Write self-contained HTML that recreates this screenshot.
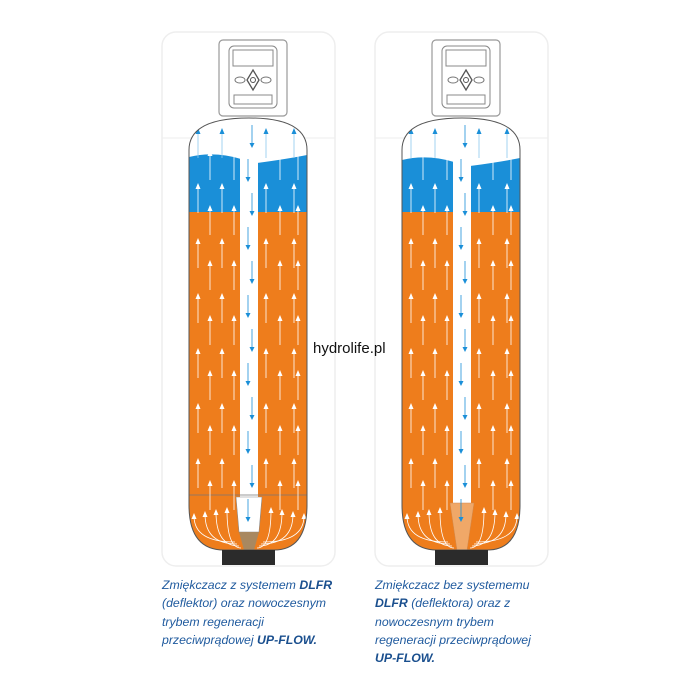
<!DOCTYPE html>
<html><head><meta charset="utf-8"><style>
body{margin:0;background:#fff;width:700px;height:700px;overflow:hidden;position:relative;font-family:"Liberation Sans",sans-serif}
.cap{position:absolute;font-style:italic;color:#1f5a9e;font-size:12.3px;line-height:18.3px}
.cap b{color:#1a4f8e}
#wm{position:absolute;left:313px;top:340px;font-size:15px;color:#111}
</style></head><body>
<svg id="s" width="700" height="700" style="position:absolute;left:0;top:0"></svg>
<div id="wm">hydrolife.pl</div>
<div class="cap" style="left:162px;top:576px">Zmiękczacz z systemem <b>DLFR</b><br>(deflektor) oraz nowoczesnym<br>trybem regeneracji<br>przeciwprądowej <b>UP-FLOW.</b></div>
<div class="cap" style="left:375px;top:576px">Zmiękczacz bez systememu<br><b>DLFR</b> (deflektora) oraz z<br>nowoczesnym trybem<br>regeneracji przeciwprądowej<br><b>UP-FLOW.</b></div>
<script>
let h='';
function tank(ox,defl){
 const L=ox+189,R=ox+307,cx=ox+249;
 h+=`<rect x="${ox+162}" y="32" width="173" height="534" rx="14" fill="none" stroke="#eee" stroke-width="1.5"/>`;
 h+=`<line x1="${ox+162}" y1="138" x2="${ox+335}" y2="138" stroke="#eee"/>`;
 h+=`<rect x="${ox+219}" y="40" width="68" height="76" rx="4" fill="#fff" stroke="#999" stroke-width="1.2"/>`;
 h+=`<rect x="${ox+229}" y="46" width="48" height="62" rx="5" fill="#fff" stroke="#888"/>`;
 h+=`<rect x="${ox+233}" y="50" width="40" height="16" fill="#fff" stroke="#888"/>`;
 h+=`<rect x="${ox+234}" y="95" width="38" height="9" fill="#fff" stroke="#888"/>`;
 h+=`<ellipse cx="${ox+240}" cy="80" rx="5" ry="3" fill="#fff" stroke="#777"/><ellipse cx="${ox+266}" cy="80" rx="5" ry="3" fill="#fff" stroke="#777"/>`;
 h+=`<polygon points="${ox+253},70 ${ox+259},80 ${ox+253},90 ${ox+247},80" fill="#fff" stroke="#555" stroke-width="1.3"/><circle cx="${ox+253}" cy="80" r="2.5" fill="#fff" stroke="#555"/>`;
 const bw=ox===0?157:160;
 const path=`M${L},505 L${L},150 Q${L},118 ${cx},118 Q${R},118 ${R},150 L${R},505 Q${R},550 ${cx+25},550 L${cx-25},550 Q${L},550 ${L},505 Z`;
 h+=`<clipPath id="c${ox}"><path d="${path}"/></clipPath>`;
 h+=`<g clip-path="url(#c${ox})"><rect x="${L}" y="100" width="120" height="460" fill="#fff"/>`;
 h+=`<path d="M${L},${bw} Q${L+25},${bw-6} ${cx-8},${bw+2} L${cx+8},${bw+6} Q${R-20},${bw+2} ${R},${bw-2} L${R},212 L${L},212Z" fill="#1a8fd8"/>`;
 h+=`<rect x="${L}" y="212" width="120" height="350" fill="#ee7d1c"/>`;
 h+=`<rect x="${cx-9}" y="118" width="18" height="${defl?380:385}" fill="#fff"/>`;
 if(defl){
  h+=`<line x1="${L}" y1="495" x2="${R}" y2="495" stroke="#777" stroke-width="0.8"/>`;
  h+=`<polygon points="${cx-13},497 ${cx+13},497 ${cx+10},532 ${cx-10},532" fill="#fff" stroke="#888" stroke-width="0.6"/>`;
  h+=`<polygon points="${cx-10},532 ${cx+10},532 ${cx+5},550 ${cx-5},550" fill="#a88860"/>`;
 } else {
  h+=`<polygon points="${cx-12},503 ${cx+12},503 ${cx+5},550 ${cx-5},550" fill="#f0a868" stroke="#d08a50" stroke-width="0.5"/>`;
 }
 for(let y=125;y<(defl?525:530);y+=34){const x=cx+((y/34|0)%2?3:-1);
  h+=`<line x1="${x}" y1="${y}" x2="${x}" y2="${y+20}" stroke="#1a8fd8" stroke-width="0.8"/><polygon points="${x-2.5},${y+18} ${x+2.5},${y+18} ${x},${y+23}" fill="#1a8fd8"/>`;}
 const cols=[L+9,L+21,L+33,L+45,cx+17,cx+31,cx+45,R-9];
 cols.forEach((x,i)=>{for(let y=(i%2?150:128);y<490;y+=55){
  h+=`<line x1="${x}" y1="${y+4}" x2="${x}" y2="${y+30}" stroke="${y<150?'#8cc8ee':'#fff'}" stroke-width="0.8"/><polygon points="${x-2.5},${y+6} ${x+2.5},${y+6} ${x},${y}" fill="${y<150?'#1a8fd8':'#fff'}"/>`;}});
 [-1,1].forEach(s=>{for(let k=0;k<4;k++){const x0=cx+s*(8+k*2),y0=548-k*2,x1=cx+s*(22+k*11),y1=510+k*2;
  h+=`<path d="M${x0},${y0} Q${x1},${y0} ${x1},${y1}" fill="none" stroke="#fff" stroke-width="0.8"/><polygon points="${x1-2.5},${y1+3} ${x1+2.5},${y1+3} ${x1},${y1-3}" fill="#fff"/>`;}});
 h+=`</g><path d="${path}" fill="none" stroke="#555" stroke-width="1"/>`;
 h+=`<rect x="${cx-27}" y="550" width="53" height="15" fill="#2b2b2b"/>`;
}
tank(0,true);tank(213,false);
document.getElementById('s').innerHTML=h;
</script>
</body></html>
